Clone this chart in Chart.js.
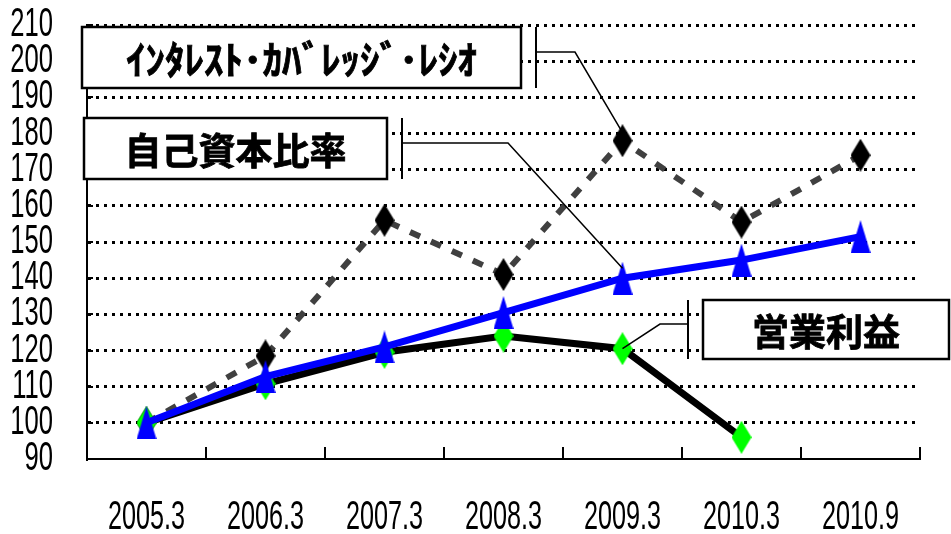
<!DOCTYPE html>
<html>
<head>
<meta charset="utf-8">
<script src="https://cdn.jsdelivr.net/npm/chart.js@4.4.1/dist/chart.umd.min.js"></script>
<style>
  html, body { margin: 0; padding: 0; background: #fff; }
  #wrap { width: 951px; height: 534px; }
</style>
</head>
<body>
<div id="wrap"><canvas id="chart"></canvas></div>
<script>
// Data
const labels = ['2005.3', '2006.3', '2007.3', '2008.3', '2009.3', '2010.3', '2010.9'];
const coverage = [100, 118.5, 156, 141, 178, 155.5, 174];   // インタレスト・カバレッジ・レシオ
const equity = [100, 112.8, 121, 130.5, 140, 145, 151.5];  // 自己資本比率
const opProfit = [100, 110.8, 119.5, 124, 120.5, 96, null]; // 営業利益
const yMin = 90, yMax = 210, yStep = 10;

const SANS = '"Liberation Sans", Arial, sans-serif';
const JP = '"Noto Sans CJK JP", sans-serif';

// tall markers drawn on small canvases
function marker(shape, color, w, h) {
    const c = document.createElement('canvas');
    c.width = w; c.height = h;
    const g = c.getContext('2d');
    g.fillStyle = color;
    g.beginPath();
    if (shape === 'diamond') {
        g.moveTo(w / 2, 0); g.lineTo(w, h / 2); g.lineTo(w / 2, h); g.lineTo(0, h / 2);
    } else {
        g.moveTo(w / 2, 0); g.lineTo(w, h); g.lineTo(0, h);
    }
    g.closePath();
    g.fill();
    return c;
}
const blackDiamond = marker('diamond', '#000000', 20, 33);
const greenDiamond = marker('diamond', '#00ff00', 20, 33);
const blueTriangle = marker('triangle', '#0000ff', 20, 33);

// callout boxes: box rect, bracket x, elbow point, target point
const callouts = [
    { text: 'ｲﾝﾀﾚｽﾄ･ｶﾊﾞﾚｯｼﾞ･ﾚｼｵ', size: 39, box: [82, 27, 439, 61], bar: 536, elbow: [575, 52], ds: 0, idx: 4, dy: -8 },
    { text: '自己資本比率', size: 37, box: [84, 118, 303, 61], bar: 402, elbow: [508, 143], ds: 2, idx: 4, dy: -10 },
    { text: '営業利益', size: 37, box: [703, 300, 246, 59], bar: 688, elbow: [660, 324], ds: 1, idx: 4, dy: 0 }
];

// condensed text
function narrowText(ctx, text, x, y, size, sx, align) {
    ctx.save();
    ctx.font = size + 'px ' + SANS;
    ctx.textAlign = align;
    ctx.textBaseline = 'middle';
    ctx.translate(x, y);
    ctx.scale(sx, 1);
    ctx.fillText(text, 0, 0);
    ctx.restore();
}

const decorPlugin = {
    id: 'decor',
    afterDraw(chart) {
        const { ctx, chartArea, scales } = chart;
        const n = labels.length;
        const step = (chartArea.right - chartArea.left) / n;
        ctx.save();
        ctx.fillStyle = '#000';
        // axis labels
        scales.y.ticks.forEach(t => {
            narrowText(ctx, String(t.value), 53, scales.y.getPixelForValue(t.value), 40, 0.64, 'right');
        });
        labels.forEach((l, i) => {
            narrowText(ctx, l, scales.x.getPixelForValue(i), 518, 40, 0.63, 'center');
        });
        ctx.strokeStyle = '#000';
        ctx.lineWidth = 2;
        // x tick marks pointing up
        for (let i = 1; i <= n; i++) {
            const x = Math.round(chartArea.left + i * step);
            ctx.beginPath();
            ctx.moveTo(x, chartArea.bottom);
            ctx.lineTo(x, chartArea.bottom - 12);
            ctx.stroke();
        }
        // y tick marks pointing right
        for (let v = yMin + yStep; v <= yMax; v += yStep) {
            const y = Math.round(scales.y.getPixelForValue(v));
            ctx.beginPath();
            ctx.moveTo(chartArea.left, y);
            ctx.lineTo(chartArea.left + 6, y);
            ctx.stroke();
        }
        // callouts
        callouts.forEach(c => {
            const [bx, by, bw, bh] = c.box;
            const data = chart.data.datasets[c.ds].data;
            const tx = scales.x.getPixelForValue(c.idx);
            const ty = scales.y.getPixelForValue(data[c.idx]) + c.dy;
            ctx.lineWidth = 1.5;
            ctx.beginPath();
            ctx.moveTo(c.bar, c.elbow[1]);
            ctx.lineTo(c.elbow[0], c.elbow[1]);
            ctx.lineTo(tx, ty);
            ctx.stroke();
            ctx.lineWidth = 2;
            ctx.beginPath();
            ctx.moveTo(c.bar, by);
            ctx.lineTo(c.bar, by + bh);
            ctx.stroke();
            ctx.fillStyle = '#fff';
            ctx.fillRect(bx, by, bw, bh);
            ctx.lineWidth = 2.5;
            ctx.strokeRect(bx, by, bw, bh);
            ctx.fillStyle = '#000';
            ctx.strokeStyle = '#000';
            ctx.lineWidth = 0.8;
            ctx.font = 'bold ' + c.size + 'px ' + JP;
            ctx.textAlign = 'center';
            ctx.textBaseline = 'middle';
            ctx.fillText(c.text, bx + bw / 2, by + bh / 2 + 2);
            ctx.strokeText(c.text, bx + bw / 2, by + bh / 2 + 2);
        });
        ctx.restore();
    }
};

new Chart(document.getElementById('chart'), {
    type: 'line',
    data: {
        labels: labels,
        datasets: [
            {
                label: 'インタレスト・カバレッジ・レシオ',
                data: coverage,
                borderColor: '#404040',
                borderWidth: 6,
                borderDash: [11, 12],
                pointStyle: blackDiamond,
                tension: 0,
                order: 3
            },
            {
                label: '営業利益',
                data: opProfit,
                borderColor: '#000000',
                borderWidth: 7,
                pointStyle: greenDiamond,
                tension: 0,
                order: 2
            },
            {
                label: '自己資本比率',
                data: equity,
                borderColor: '#0000ff',
                borderWidth: 7,
                pointStyle: blueTriangle,
                tension: 0,
                order: 1
            }
        ]
    },
    options: {
        responsive: true,
        maintainAspectRatio: false,
        animation: false,
        layout: { padding: { top: 25, right: 31, left: 0, bottom: 0 } },
        plugins: { legend: { display: false }, tooltip: { enabled: false } },
        scales: {
            x: {
                offset: true,
                grid: { display: false },
                border: { display: true, color: '#000', width: 2 },
                ticks: { display: false },
                afterFit(s) { s.height = 75; }
            },
            y: {
                min: yMin,
                max: yMax,
                grid: {
                    color: c => c.tick.value === yMin ? 'rgba(0,0,0,0)' : '#000',
                    lineWidth: 3,
                    drawTicks: false
                },
                border: { display: true, color: '#000', width: 2, dash: [3, 5] },
                ticks: { stepSize: yStep, display: false },
                afterFit(s) { s.width = 87; }
            }
        }
    },
    plugins: [decorPlugin]
});
</script>
</body>
</html>
